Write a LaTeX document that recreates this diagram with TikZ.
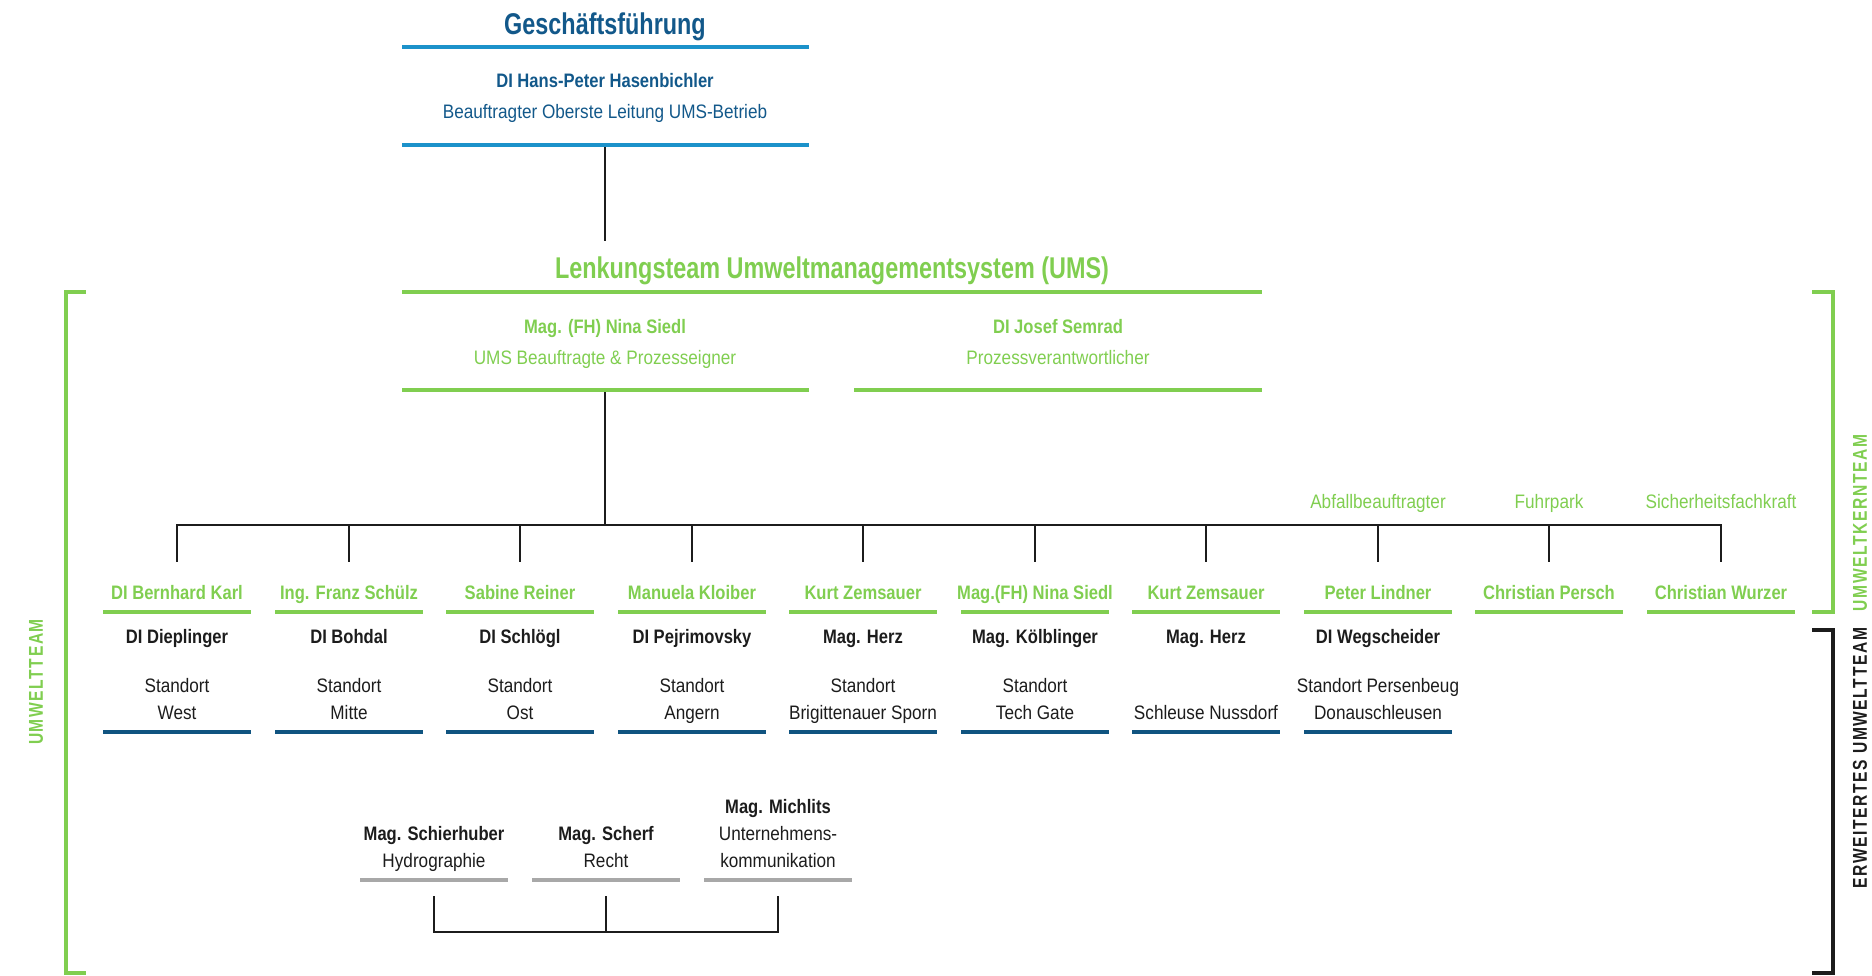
\documentclass[tikz,border=0pt]{standalone}
\usepackage{fontspec}
\setmainfont{Liberation Sans}
\newfontfamily\regfont{Liberation Sans}[FakeStretch=0.88]
\newfontfamily\namefont{Liberation Sans}[FakeStretch=0.85]
\newfontfamily\condfont{Liberation Sans}[FakeStretch=0.78]
\newfontfamily\sidefont{Liberation Sans}[FakeStretch=0.78,LetterSpace=8]
\definecolor{gfblue}{RGB}{18,88,138}
\definecolor{barblue}{RGB}{28,146,202}
\definecolor{umsgreen}{RGB}{128,206,80}
\definecolor{navy}{RGB}{16,84,128}
\definecolor{bargray}{RGB}{168,168,168}
\definecolor{inkblack}{RGB}{28,28,28}

\begin{document}
\begin{tikzpicture}[x=1pt,y=-1pt,
    title/.style={anchor=base,font=\condfont\bfseries\fontsize{30}{30}\selectfont},
    boss/.style={anchor=base,align=center,font=\namefont\bfseries\fontsize{19.5}{27}\selectfont},
    role/.style={anchor=base,align=center,font=\regfont\fontsize{19.5}{27}\selectfont},
    side/.style={rotate=90,font=\sidefont\bfseries\fontsize{20}{20}\selectfont},
    bar/.style={line width=4pt},
    link/.style={line width=2pt,draw=inkblack},
    bracket/.style={line width=4pt}]
    \useasboundingbox (0,0) rectangle (1872,975);

    % Geschaeftsfuehrung
    \node[title,text=gfblue] (gf) at (605,34) {Geschäftsführung};
    \draw[bar,barblue] (402,47) -- (809,47);
    \node[boss,text=gfblue] (gfname) at (605,87) {DI Hans-Peter Hasenbichler};
    \node[role,text=gfblue] (gfrole) at (605,118) {Beauftragter Oberste Leitung UMS-Betrieb};
    \draw[bar,barblue] (402,145) -- (809,145);

    % Lenkungsteam
    \node[title,text=umsgreen] (lt) at (832,278) {Lenkungsteam Umweltmanagementsystem (UMS)};
    \draw[bar,umsgreen] (402,292) -- (1262,292);
    \node[boss,text=umsgreen] (ns) at (605,333) {Mag. (FH) Nina Siedl};
    \node[role,text=umsgreen] (nsrole) at (605,364) {UMS Beauftragte \& Prozesseigner};
    \node[boss,text=umsgreen] (js) at (1058,333) {DI Josef Semrad};
    \node[role,text=umsgreen] (jsrole) at (1058,364) {Prozessverantwortlicher};
    \draw[bar,umsgreen] (402,390) -- (809,390)
                        (854,390) -- (1262,390);

    \coordinate (gfbar) at (605,147);
    \coordinate (ltin) at (605,241);
    \coordinate (ltbar) at (605,392);
    \coordinate (hub) at (605,525);
    \draw[link] (gfbar) -- (ltin);
    \draw[link] (ltbar) -- (hub);

    % Standorte
    \coordinate (c1) at (177,562);
    \coordinate (c2) at (349,562);
    \coordinate (c3) at (520,562);
    \coordinate (c4) at (692,562);
    \coordinate (c5) at (863,562);
    \coordinate (c6) at (1035,562);
    \coordinate (c7) at (1206,562);
    \coordinate (c8) at (1378,562);
    \coordinate (c9) at (1549,562);
    \coordinate (c10) at (1721,562);
    \draw[link] (hub) -| (c1)  (hub) -| (c2)  (hub) -| (c3)  (hub) -| (c4)  (hub) -| (c5)
                (hub) -| (c6)  (hub) -| (c7)  (hub) -| (c8)  (hub) -| (c9)  (hub) -| (c10);

    \node[role,text=umsgreen] (abf) at (1378,508) {Abfallbeauftragter};
    \node[role,text=umsgreen] (fuhr) at (1549,508) {Fuhrpark};
    \node[role,text=umsgreen] (sfk) at (1721,508) {Sicherheitsfachkraft};

    \node[boss,text=umsgreen] (k1) at (177,599) {DI Bernhard Karl};
    \node[boss,text=umsgreen] (k2) at (349,599) {Ing. Franz Schülz};
    \node[boss,text=umsgreen] (k3) at (520,599) {Sabine Reiner};
    \node[boss,text=umsgreen] (k4) at (692,599) {Manuela Kloiber};
    \node[boss,text=umsgreen] (k5) at (863,599) {Kurt Zemsauer};
    \node[boss,text=umsgreen] (k6) at (1035,599) {Mag.(FH) Nina Siedl};
    \node[boss,text=umsgreen] (k7) at (1206,599) {Kurt Zemsauer};
    \node[boss,text=umsgreen] (k8) at (1378,599) {Peter Lindner};
    \node[boss,text=umsgreen] (k9) at (1549,599) {Christian Persch};
    \node[boss,text=umsgreen] (k10) at (1721,599) {Christian Wurzer};
    \draw[bar,umsgreen] (103,612) -- (251,612)  (275,612) -- (423,612)  (446,612) -- (594,612)
                        (618,612) -- (766,612)  (789,612) -- (937,612)  (961,612) -- (1109,612)
                        (1132,612) -- (1280,612)  (1304,612) -- (1452,612)
                        (1475,612) -- (1623,612)  (1647,612) -- (1795,612);

    \node[boss,text=inkblack] (e1) at (177,643) {DI Dieplinger};
    \node[boss,text=inkblack] (e2) at (349,643) {DI Bohdal};
    \node[boss,text=inkblack] (e3) at (520,643) {DI Schlögl};
    \node[boss,text=inkblack] (e4) at (692,643) {DI Pejrimovsky};
    \node[boss,text=inkblack] (e5) at (863,643) {Mag. Herz};
    \node[boss,text=inkblack] (e6) at (1035,643) {Mag. Kölblinger};
    \node[boss,text=inkblack] (e7) at (1206,643) {Mag. Herz};
    \node[boss,text=inkblack] (e8) at (1378,643) {DI Wegscheider};

    % base = last line
    \node[role,text=inkblack] (s1) at (177,719) {Standort\\West};
    \node[role,text=inkblack] (s2) at (349,719) {Standort\\Mitte};
    \node[role,text=inkblack] (s3) at (520,719) {Standort\\Ost};
    \node[role,text=inkblack] (s4) at (692,719) {Standort\\Angern};
    \node[role,text=inkblack] (s5) at (863,719) {Standort\\Brigittenauer Sporn};
    \node[role,text=inkblack] (s6) at (1035,719) {Standort\\Tech Gate};
    \node[role,text=inkblack] (s7) at (1206,719) {Schleuse Nussdorf};
    \node[role,text=inkblack] (s8) at (1378,719) {Standort Persenbeug\\Donauschleusen};
    \draw[bar,navy] (103,732) -- (251,732)  (275,732) -- (423,732)  (446,732) -- (594,732)
                    (618,732) -- (766,732)  (789,732) -- (937,732)  (961,732) -- (1109,732)
                    (1132,732) -- (1280,732)  (1304,732) -- (1452,732);

    % Fachbereiche
    \node[boss,text=inkblack] (hy) at (434,840) {Mag. Schierhuber};
    \node[role,text=inkblack] (hyrole) at (434,867) {Hydrographie};
    \node[boss,text=inkblack] (re) at (606,840) {Mag. Scherf};
    \node[role,text=inkblack] (rerole) at (606,867) {Recht};
    \node[boss,text=inkblack] (uk) at (778,813) {Mag. Michlits};
    \node[role,text=inkblack] (ukrole) at (778,867) {Unternehmens-\\kommunikation};
    \draw[bar,bargray] (360,880) -- (508,880)  (532,880) -- (680,880)  (704,880) -- (852,880);
    \coordinate (hybar) at (434,896);
    \coordinate (rebar) at (606,896);
    \coordinate (ukbar) at (778,896);
    \coordinate (fbase) at (606,932);
    \draw[link] (hybar) |- (fbase) -| (ukbar)
                (rebar) -- (fbase);

    % Klammern
    \draw[bracket,umsgreen] (86,292) -- (66,292) -- (66,973) -- (86,973);
    \node[side,text=umsgreen] (ut) at (36,682) {UMWELTTEAM};
    \draw[bracket,umsgreen] (1812,292) -- (1833,292) -- (1833,612) -- (1812,612);
    \node[side,text=umsgreen] (ukt) at (1860,523) {UMWELTKERNTEAM};
    \draw[bracket,inkblack] (1812,630) -- (1833,630) -- (1833,973) -- (1812,973);
    \node[side,text=inkblack] (eut) at (1860,758) {ERWEITERTES UMWELTTEAM};
\end{tikzpicture}
\end{document}
